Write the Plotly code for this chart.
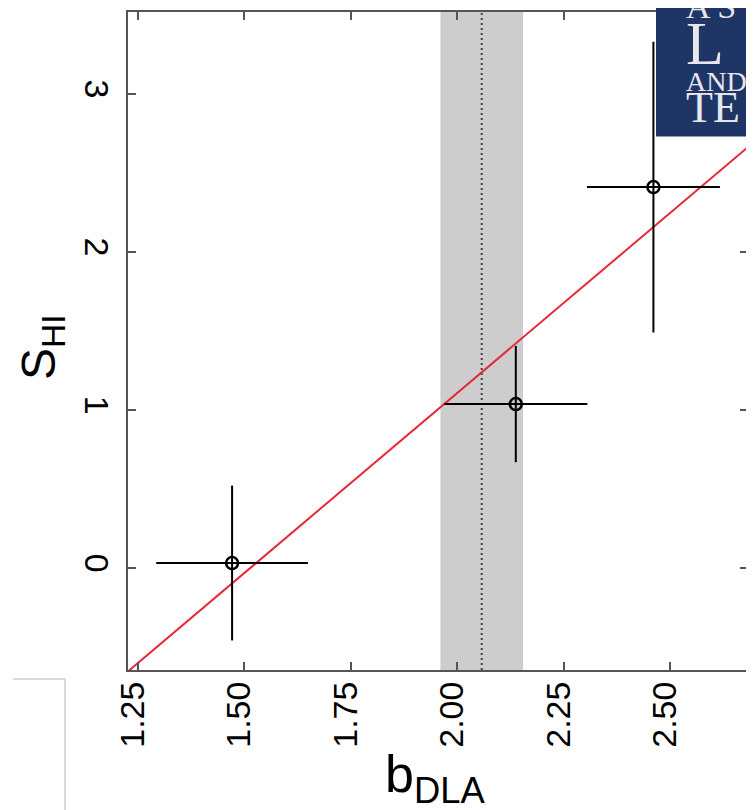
import plotly.graph_objects as go
import numpy as np

# ---- data ----
b_dla = [1.472, 2.138, 2.461]
b_dla_err = [0.178, 0.168, 0.156]
s_hi = [0.033, 1.039, 2.412]
s_hi_err = [0.49, 0.368, 0.92]

fit_slope = 2.28
fit_intercept = -3.452

b_mean = 2.058
b_sigma = 0.097

x_tickvals = [1.25, 1.50, 1.75, 2.00, 2.25, 2.50]
x_ticktext = ["1.25", "1.50", "1.75", "2.00", "2.25", "2.50"]
y_tickvals = [0, 1, 2, 3]
y_ticktext = ["0", "1", "2", "3"]

x_range = [1.2277, 2.683]
y_range = [-0.644, 3.52]

FONT = "Liberation Sans"
AX = "#555555"

# page is offset by the 8px body margin; compensate
OFF = 8
W, H = 754 - OFF, 810 - OFF
L, R, T, B = 128 - OFF, 6, 10 - OFF, 140
pw, ph = W - L - R, H - T - B


def px(xp):
    return (xp - OFF - L) / pw


def py(yp):
    return (H - B - (yp - OFF)) / ph


fig = go.Figure()

# fit line
fx = np.array(x_range)
fy = fit_slope * fx + fit_intercept
fig.add_trace(go.Scatter(x=fx, y=fy, mode="lines",
                         line=dict(color="#e6283a", width=2),
                         hoverinfo="skip", showlegend=False))

# data points
fig.add_trace(go.Scatter(
    x=b_dla, y=s_hi, mode="markers",
    marker=dict(symbol="circle-open", size=12, color="black",
                line=dict(width=2.5, color="black")),
    error_x=dict(type="data", array=b_dla_err, color="black", thickness=2, width=0),
    error_y=dict(type="data", array=s_hi_err, color="black", thickness=2, width=0),
    showlegend=False))

# shaded band and dotted mean line
fig.add_vrect(x0=b_mean - b_sigma, x1=b_mean + b_sigma,
              fillcolor="rgb(205,205,205)", opacity=1, line_width=0, layer="below")
fig.add_vline(x=b_mean, line=dict(color="#444444", width=2, dash="2px,3px"), layer="below")

# axis titles as annotations
fig.add_annotation(text="S<sub>HI</sub>", xref="paper", yref="paper",
                   x=px(42), y=py(346), xanchor="center", yanchor="middle",
                   textangle=-90, showarrow=False,
                   font=dict(family=FONT, size=48, color="black"))
fig.add_annotation(text="b<sub>DLA</sub>", xref="paper", yref="paper",
                   x=px(435), y=py(778), xanchor="center", yanchor="middle",
                   showarrow=False,
                   font=dict(family=FONT, size=52, color="black"))

# logo block at top right
fig.add_shape(type="rect", xref="paper", yref="paper",
              x0=px(656), x1=px(770), y0=py(135), y1=py(-5),
              fillcolor="#1f3566", line_width=0, layer="above")
logo_font = "Liberation Serif"
logo_col = "#e6e6ec"
for txt, yc, sz in [("A S", 4, 34), ("L", 41, 62), ("AND", 80, 28), ("TE", 106, 44)]:
    fig.add_annotation(text=txt, xref="paper", yref="paper", x=px(684), y=py(yc),
                       xanchor="left", yanchor="middle", showarrow=False,
                       font=dict(family=logo_font, size=sz, color=logo_col))

# light box outline at bottom left
fig.add_shape(type="line", xref="paper", yref="paper",
              x0=px(13), x1=px(65), y0=py(679), y1=py(679),
              line=dict(color="#cccccc", width=1.5))
fig.add_shape(type="line", xref="paper", yref="paper",
              x0=px(65), x1=px(65), y0=py(679), y1=py(815),
              line=dict(color="#cccccc", width=1.5))

axis_common = dict(showline=True, mirror="ticks", linecolor=AX, linewidth=2,
                   ticks="inside", ticklen=8, tickwidth=1.5, tickcolor=AX,
                   showgrid=False, zeroline=False,
                   tickfont=dict(family=FONT, size=34, color="black"))

fig.update_xaxes(range=x_range, tickvals=x_tickvals, ticktext=x_ticktext,
                 tickangle=-90, ticklabelshift=-5, ticklabelstandoff=-4,
                 **axis_common)
fig.update_yaxes(range=y_range, tickvals=y_tickvals, ticktext=y_ticktext,
                 tickangle=90, **axis_common)

fig.update_layout(width=W, height=H, autosize=False,
                  margin=dict(l=L, r=R, t=T, b=B),
                  plot_bgcolor="white", paper_bgcolor="white")

fig.write_html("out.html")
